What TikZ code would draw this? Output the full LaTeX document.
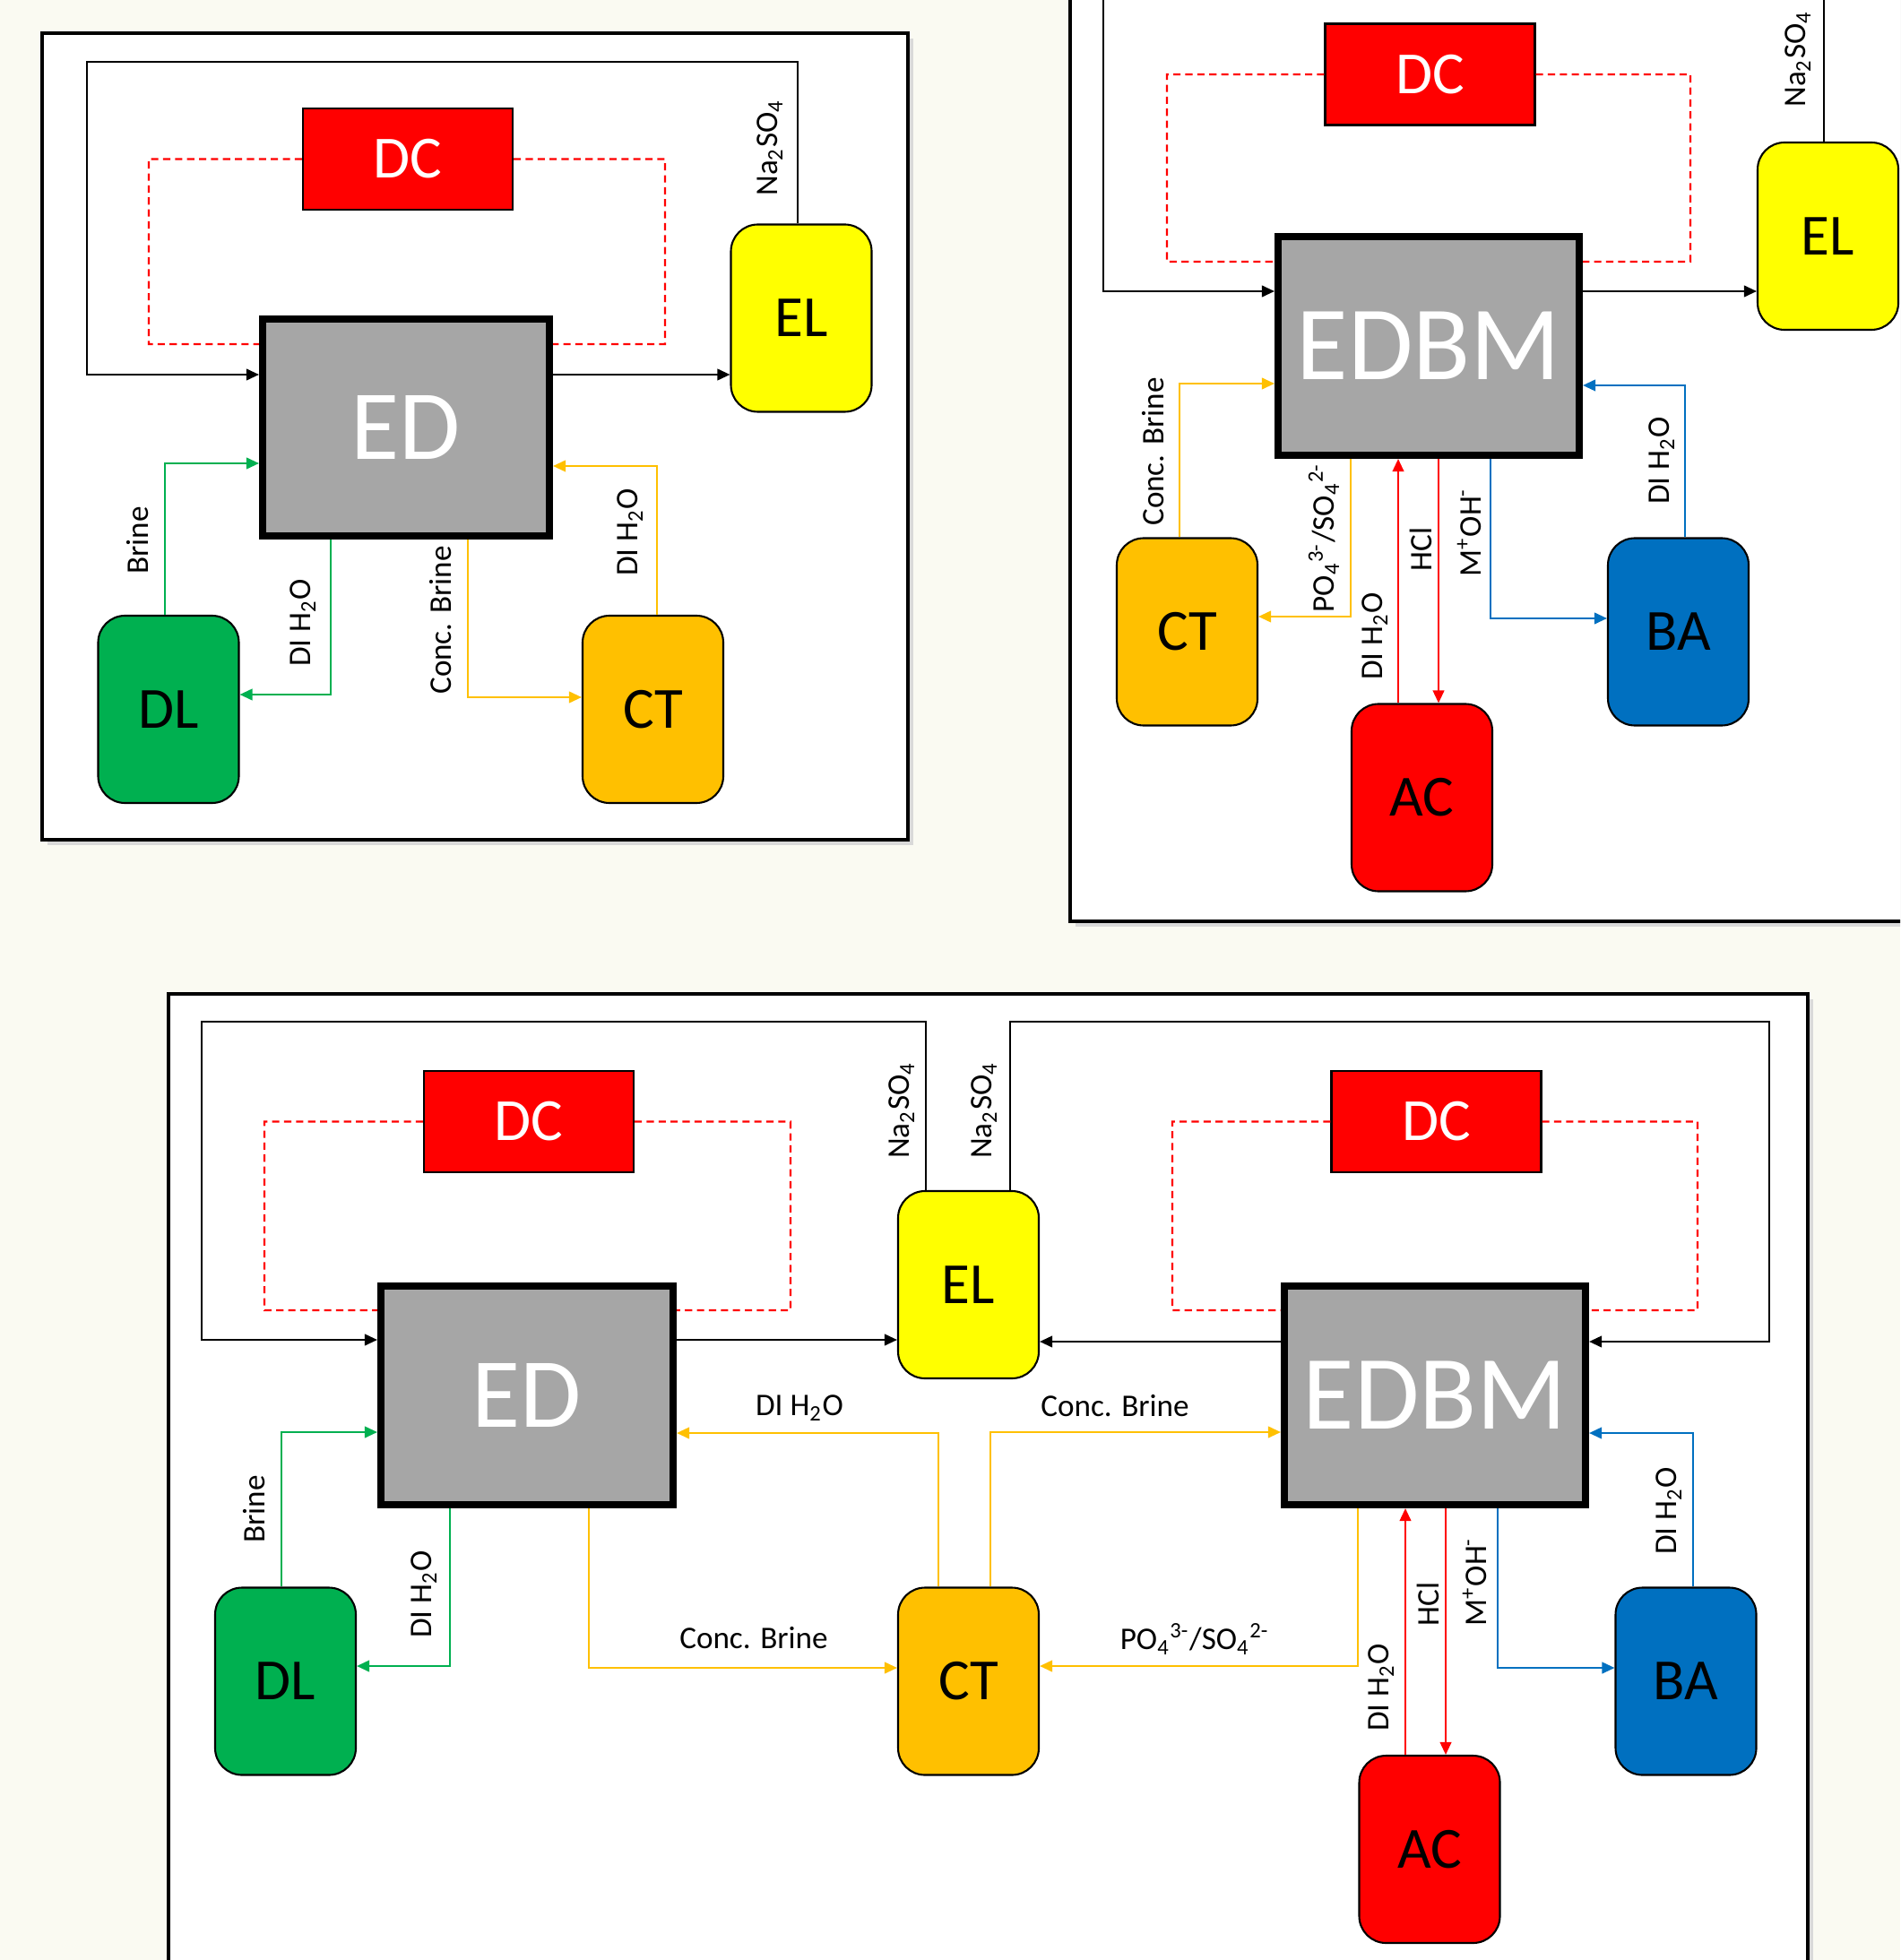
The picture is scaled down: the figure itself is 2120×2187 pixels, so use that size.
\documentclass[tikz,border=0pt]{standalone}
\usepackage{fontspec}
\setmainfont{Carlito}
\usepackage{tikz}
\usetikzlibrary{arrows.meta}

\definecolor{bgcream}{RGB}{250,250,242}
\definecolor{unitgray}{RGB}{166,166,166}
\definecolor{dlgreen}{RGB}{0,176,80}
\definecolor{ctorange}{RGB}{255,192,0}
\definecolor{elyellow}{RGB}{255,255,0}
\definecolor{bablue}{RGB}{0,112,192}
\definecolor{acred}{RGB}{255,0,0}

\begin{document}
\begin{tikzpicture}[
    >={Triangle[length=4pt,width=3.6pt]},
    x=0.1mm, y=-0.1mm,
    panel/.style={draw,fill=white,line width=1.2pt},
    unit/.style={draw,line width=2.3pt,fill=unitgray,text=white,inner sep=0pt,
                 font=\fontsize{31.5}{31.5}\selectfont},
    bigunit/.style={unit,font=\fontsize{33.5}{33.5}\selectfont},
    dcbox/.style={draw,line width=0.6pt,fill=acred,text=white,minimum width=23.4mm,
                  minimum height=11.3mm,font=\fontsize{19}{19}\selectfont},
    tank/.style={draw,line width=0.6pt,rounded corners=3mm,minimum width=15.7mm,
                 minimum height=20.9mm,font=\fontsize{18.5}{18.5}\selectfont},
    lbl/.style={inner sep=0pt,font=\fontsize{10}{12}\selectfont},
    vlbl/.style={lbl,rotate=90},
    feed/.style={->,line width=0.6pt},
    ctrl/.style={acred,line width=0.6pt,dash pattern=on 2.3pt off 1.5pt},
  ]

  \clip (0,0) rectangle (2120,2187);
  \fill[bgcream] (0,0) rectangle (2120,2187);

  % --- the three frames, each with an offset shadow ---
  \foreach \a/\b/\c/\d in {47/37/1013/937, 1194/-30/2150/1028, 188/1109/2017/2230} {
    \fill[black!15] (\a+6,\b+6) rectangle (\c+6,\d+6);
    \draw[panel] (\a,\b) rectangle (\c,\d);
  }

  % ===== top left: ED alone =====
  \node[unit,minimum width=32mm,minimum height=24.2mm] (edA) at (453,477) {ED};
  \node[dcbox] (dcA) at (455,177.5) {DC};
  \node[tank,fill=elyellow] (elA) at (894,355)   {EL};
  \node[tank,fill=dlgreen]  (dlA) at (188,791.5) {DL};
  \node[tank,fill=ctorange] (ctA) at (728.5,791.5) {CT};

  \draw[ctrl] (dcA.west) -| (166,384) -- ([yshift=9.3mm]edA.west);
  \draw[ctrl] (dcA.east) -| (742,384) -- ([yshift=9.3mm]edA.east);
  \draw[feed] ([xshift=-0.4mm]elA.north) |- (97,69) |- ([yshift=5.9mm]edA.west);
  \draw[feed] ([yshift=5.9mm]edA.east) -- ([yshift=5.9mm]edA.east -| elA.west);
  \draw[feed,dlgreen] ([xshift=-0.4mm]dlA.north) |- ([yshift=-4mm]edA.west);
  \draw[feed,dlgreen] ([xshift=-8.4mm]edA.south) |- ([yshift=1.65mm]dlA.east);
  \draw[feed,ctorange] ([xshift=6.9mm]edA.south) |- ([yshift=1.35mm]ctA.west);
  \draw[feed,ctorange] ([xshift=0.45mm]ctA.north) |- ([yshift=-4.3mm]edA.east);

  \node[vlbl] (naA)  at (859,165) {Na\textsubscript{2}SO\textsubscript{4}};
  \node[vlbl] (brA)  at (154,603) {Brine};
  \node[vlbl] (diA1) at (338,695) {DI H\textsubscript{2}O};
  \node[vlbl] (cbA)  at (492,692) {Conc. Brine};
  \node[vlbl] (diA2) at (703,594) {DI H\textsubscript{2}O};

  % ===== top right: EDBM alone =====
  \node[bigunit,minimum width=33.6mm,minimum height=24.4mm] (edbmB) at (1594,386) {EDBM};
  \node[dcbox] (dcB) at (1595.5,83) {DC};
  \node[tank,fill=elyellow] (elB) at (2039.5,263.5) {EL};
  \node[tank,fill=ctorange] (ctB) at (1324.5,705) {CT};
  \node[tank,fill=acred]    (acB) at (1586.5,890) {AC};
  \node[tank,fill=bablue]   (baB) at (1872.5,705) {BA};

  \draw[ctrl] (dcB.west) -| (1302,292) -- ([yshift=9.4mm]edbmB.west);
  \draw[ctrl] (dcB.east) -| (1886,292) -- ([yshift=9.4mm]edbmB.east);
  \draw[feed] ([xshift=-0.45mm]elB.north) |- (1231,-20) |- ([yshift=6.1mm]edbmB.west);
  \draw[feed] ([yshift=6.1mm]edbmB.east) -- ([yshift=6.1mm]edbmB.east -| elB.west);
  \draw[feed,ctorange] ([xshift=-0.85mm]ctB.north) |- ([yshift=-4.2mm]edbmB.west);
  \draw[feed,ctorange] ([xshift=-8.7mm]edbmB.south) |- ([yshift=1.7mm]ctB.east);
  \draw[feed,acred] ([xshift=-2.65mm]acB.north) -- ([xshift=-2.65mm]acB.north |- edbmB.south);
  \draw[feed,acred] ([xshift=1.85mm]acB.north |- edbmB.south) -- ([xshift=1.85mm]acB.north);
  \draw[feed,bablue] ([xshift=6.9mm]edbmB.south) |- ([yshift=1.5mm]baB.west);
  \draw[feed,bablue] ([xshift=0.75mm]baB.north) |- ([yshift=-4.4mm]edbmB.east);

  \node[vlbl] (naB)  at (2006,66)  {Na\textsubscript{2}SO\textsubscript{4}};
  \node[vlbl] (cbB)  at (1287,504) {Conc. Brine};
  \node[vlbl] (poB)  at (1477,600) {PO\textsubscript{4}\textsuperscript{3-}/SO\textsubscript{4}\textsuperscript{2-}};
  \node[vlbl] (diB1) at (1534,710) {DI H\textsubscript{2}O};
  \node[vlbl] (hclB) at (1585,613) {HCl};
  \node[vlbl] (mohB) at (1639,594) {M\textsuperscript{+}OH\textsuperscript{-}};
  \node[vlbl] (diB2) at (1854,514) {DI H\textsubscript{2}O};

  % ===== bottom: ED and EDBM coupled =====
  \node[unit,minimum width=32.6mm,minimum height=24.4mm]    (edC)   at (588,1557)  {ED};
  \node[bigunit,minimum width=33.6mm,minimum height=24.4mm] (edbmC) at (1601,1557) {EDBM};
  \node[dcbox] (dcC) at (590,1251.5)    {DC};
  \node[dcbox] (dcD) at (1602.5,1251.5) {DC};
  \node[tank,fill=elyellow] (elC) at (1080.5,1433.5) {EL};
  \node[tank,fill=dlgreen]  (dlC) at (318.5,1876)  {DL};
  \node[tank,fill=ctorange] (ctC) at (1080.5,1876) {CT};
  \node[tank,fill=acred]    (acC) at (1595,2063.5) {AC};
  \node[tank,fill=bablue]   (baC) at (1881,1876)   {BA};

  \draw[ctrl] (dcC.west) -| (295,1462)  -- ([yshift=9.5mm]edC.west);
  \draw[ctrl] (dcC.east) -| (882,1462)  -- ([yshift=9.5mm]edC.east);
  \draw[ctrl] (dcD.west) -| (1308,1462) -- ([yshift=9.5mm]edbmC.west);
  \draw[ctrl] (dcD.east) -| (1894,1462) -- ([yshift=9.5mm]edbmC.east);
  \draw[feed] ([xshift=-4.75mm]elC.north) |- (225,1140) |- ([yshift=6.2mm]edC.west);
  \draw[feed] ([xshift=4.65mm]elC.north) |- (1974,1140) |- ([yshift=6mm]edbmC.east);
  \draw[feed] ([yshift=6.2mm]edC.east) -- ([yshift=6.2mm]edC.east -| elC.west);
  \draw[feed] ([yshift=6mm]edbmC.west) -- ([yshift=6mm]edbmC.west -| elC.east);
  \draw[feed,dlgreen] ([xshift=-0.45mm]dlC.north) |- ([yshift=-4.1mm]edC.west);
  \draw[feed,dlgreen] ([xshift=-8.6mm]edC.south) |- ([yshift=1.7mm]dlC.east);
  \draw[feed,ctorange] ([xshift=6.9mm]edC.south) |- ([yshift=1.5mm]ctC.west);
  \draw[feed,ctorange] ([xshift=-3.35mm]ctC.north) |- ([yshift=-4.2mm]edC.east);
  \draw[feed,ctorange] ([xshift=2.45mm]ctC.north) |- ([yshift=-4.1mm]edbmC.west);
  \draw[feed,ctorange] ([xshift=-8.6mm]edbmC.south) |- ([yshift=1.7mm]ctC.east);
  \draw[feed,acred] ([xshift=-2.7mm]acC.north) -- ([xshift=-2.7mm]acC.north |- edbmC.south);
  \draw[feed,acred] ([xshift=1.8mm]acC.north |- edbmC.south) -- ([xshift=1.8mm]acC.north);
  \draw[feed,bablue] ([xshift=7mm]edbmC.south) |- ([yshift=1.5mm]baC.west);
  \draw[feed,bablue] ([xshift=0.8mm]baC.north) |- ([yshift=-4.2mm]edbmC.east);

  \node[vlbl] (naC1) at (1006,1239) {Na\textsubscript{2}SO\textsubscript{4}};
  \node[vlbl] (naC2) at (1098,1239) {Na\textsubscript{2}SO\textsubscript{4}};
  \node[vlbl] (brC)  at (284,1684)  {Brine};
  \node[vlbl] (diC1) at (473,1779)  {DI H\textsubscript{2}O};
  \node[lbl]  (cbC1) at (841,1828)  {Conc. Brine};
  \node[lbl]  (diC2) at (892,1571)  {DI H\textsubscript{2}O};
  \node[lbl]  (cbC2) at (1244,1569) {Conc. Brine};
  \node[lbl]  (poC)  at (1333,1829) {PO\textsubscript{4}\textsuperscript{3-}/SO\textsubscript{4}\textsuperscript{2-}};
  \node[vlbl] (diC3) at (1541,1883) {DI H\textsubscript{2}O};
  \node[vlbl] (hclC) at (1593,1790) {HCl};
  \node[vlbl] (mohC) at (1645,1765) {M\textsuperscript{+}OH\textsuperscript{-}};
  \node[vlbl] (diC4) at (1862,1686) {DI H\textsubscript{2}O};

\end{tikzpicture}
\end{document}
